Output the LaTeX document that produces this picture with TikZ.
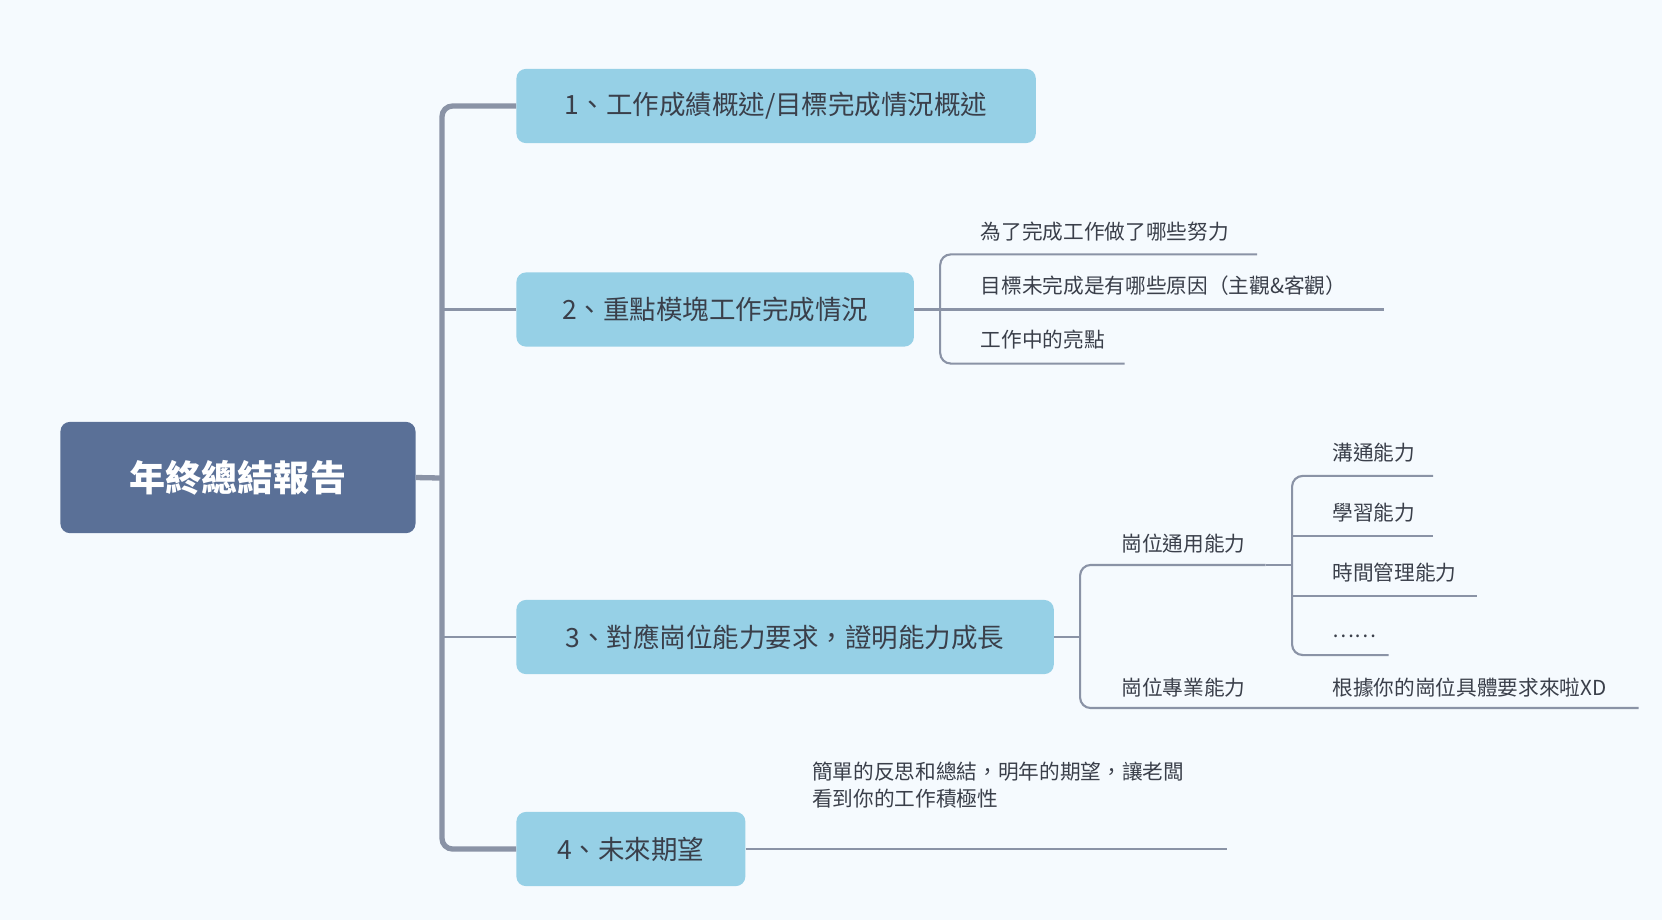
\documentclass[tikz,border=0pt]{standalone}
\usepackage{fontspec}
\setmainfont{Noto Sans CJK TC}
\definecolor{bg}{HTML}{F5FAFE}
\definecolor{rootc}{HTML}{5A7097}
\definecolor{brc}{HTML}{96D0E6}
\definecolor{lnc}{HTML}{8A93A6}
\definecolor{txc}{HTML}{3A3F4A}
\tikzset{
 rootbox/.style={fill=rootc,rounded corners=9pt,text=white,font=\fontsize{34}{40}\selectfont\bfseries,minimum width=335pt,minimum height=105pt,inner sep=0},
 brbox/.style={fill=brc,rounded corners=9pt,text=txc,font=\fontsize{25}{30}\selectfont,minimum height=70pt,anchor=west,inner sep=0},
 sub/.style={text=txc,font=\fontsize{19.5}{26}\selectfont,anchor=base west,inner sep=0,align=left},
 trunk/.style={draw=lnc,line width=5pt,rounded corners=10pt},
 ln/.style={draw=lnc,line width=2pt,rounded corners=10pt},
}
\begin{document}
\begin{tikzpicture}[x=1pt,y=-1pt]
\fill[bg] (0,0) rectangle (1568,868);
\useasboundingbox (0,0) rectangle (1568,868);
\node[rootbox] (root) at (224.5,450.5) {年終總結報告};
\node[brbox,minimum width=490pt] (b1) at (487,100) {1、工作成績概述/目標完成情況概述};
\node[brbox,minimum width=375pt] (b2) at (487,292) {2、重點模塊工作完成情況};
\node[brbox,minimum width=507pt] (b3) at (487,601) {3、對應崗位能力要求，證明能力成長};
\node[brbox,minimum width=216pt] (b4) at (487,801) {4、未來期望};
% trunk
\draw[trunk] (b1.west) -| (417,451) |- (b4.west);
\draw[trunk,rounded corners=0] (root.east) -- (417,451);
\draw[ln] (417,292) -- (b2.west);
\draw[ln] (417,601) -- (b3.west);
% branch 2
\node[sub] (s21) at (925,226) {為了完成工作做了哪些努力};
\node[sub] (s22) at (925,277) {目標未完成是有哪些原因（主觀\&客觀）};
\node[sub] (s23) at (925,328) {工作中的亮點};
\draw[ln] (b2.east) -- (887,292);
\draw[ln] (1186,240) -- (887,240) -- (887,343) -- (1061,343);
\draw[ln] (887,292) -- (1306,292);
% branch 3
\draw[ln] (b3.east) -- (1019,601);
\node[sub] (s31) at (1058,520) {崗位通用能力};
\node[sub] (s32) at (1058,656) {崗位專業能力};
\draw[ln] (1194,533) -- (1019,533) -- (1019,668) -- (1546,668);
\node[sub] (c1) at (1257,434) {溝通能力};
\node[sub] (c2) at (1257,491) {學習能力};
\node[sub] (c3) at (1257,548) {時間管理能力};
\node[sub] (c4) at (1257,601) {……};
\node[sub] (c5) at (1257,656) {根據你的崗位具體要求來啦XD};
\draw[ln] (1194,533) -- (1219,533);
\draw[ln] (1352,449) -- (1219,449) -- (1219,618) -- (1310,618);
\draw[ln] (1219,506) -- (1352,506);
\draw[ln] (1219,562) -- (1393,562);
% branch 4
\draw[ln] (b4.east) -- (1158,801);
\node[sub] (s41) at (766,761) {簡單的反思和總結，明年的期望，讓老闆\\看到你的工作積極性};
\end{tikzpicture}
\end{document}
